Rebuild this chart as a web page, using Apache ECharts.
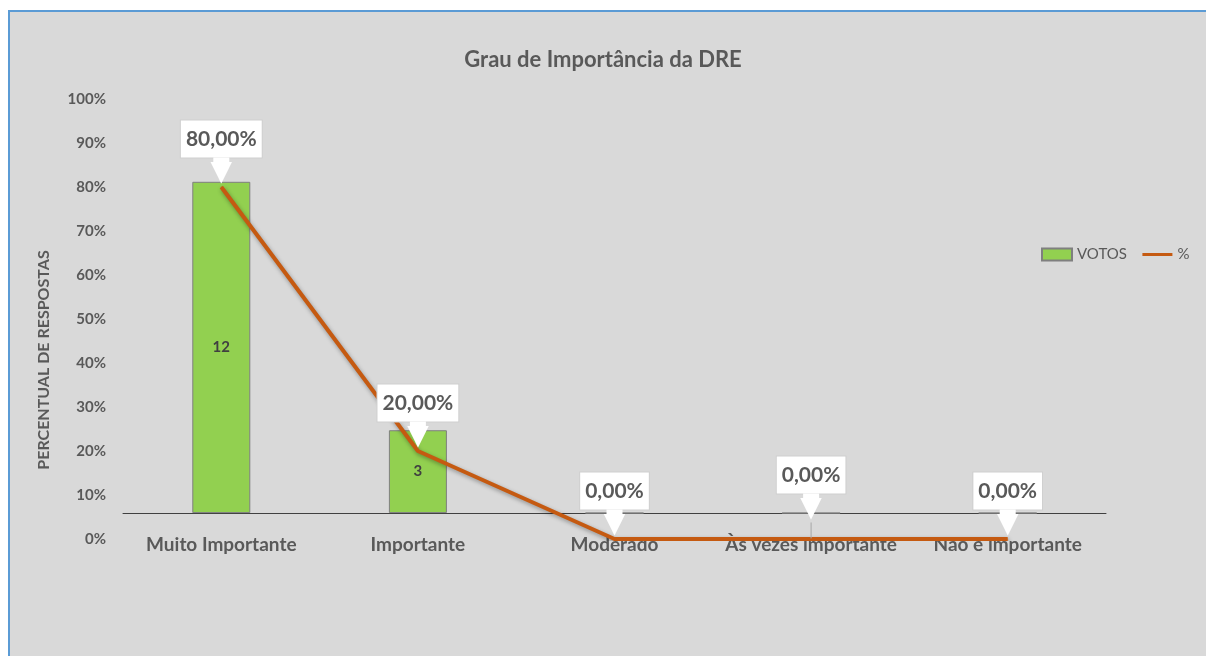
<!DOCTYPE html>
<html>
<head>
<meta charset="utf-8">
<script src="https://cdn.jsdelivr.net/npm/echarts@6/dist/echarts.min.js"></script>
<style>
  html, body { margin: 0; padding: 0; background: #ffffff; }
  #panel { position: absolute; left: 8px; top: 10px; width: 1198px; height: 646px;
           background: #d9d9d9; border-left: 2px solid #5b9bd5; border-top: 2px solid #5b9bd5; box-sizing: border-box; }
  #chart { position: absolute; left: 0; top: 0; width: 1206px; height: 656px; }
</style>
</head>
<body>
<div id="panel"></div>
<div id="chart"></div>
<script>
// chart data
const categories = ['Muito Importante', 'Importante', 'Moderado', 'Às vezes importante', 'Não é importante'];
const votos = [12, 3, 0, 0, 0];
const percentual = [0.8, 0.2, 0, 0, 0];

const textGray = '#595959';
const fmtPct = v => (v * 100).toFixed(2).replace('.', ',') + '%';

const myChart = echarts.init(document.getElementById('chart'));

const option = {
  backgroundColor: 'transparent',
  title: {
    text: 'Grau de Importância da DRE',
    left: 'center',
    top: 44,
    textStyle: { fontFamily: 'Lato', fontSize: 22, fontWeight: 'bold', color: textGray }
  },
  legend: {
    left: 1036,
    top: 242,
    itemWidth: 30,
    itemHeight: 12,
    itemGap: 14,
    textStyle: { fontFamily: 'Lato', fontSize: 15, color: textGray },
    data: [
      { name: 'VOTOS', icon: 'rect' },
      { name: '%', itemStyle: { opacity: 0 }, lineStyle: { width: 3 } }
    ]
  },
  graphic: [{
    type: 'text',
    x: 44,
    y: 360,
    rotation: Math.PI / 2,
    style: {
      text: 'PERCENTUAL DE RESPOSTAS',
      fill: textGray,
      font: 'bold 16px Lato',
      textAlign: 'center',
      textVerticalAlign: 'middle'
    }
  }],
  grid: { left: 123, right: 100, top: 99, bottom: 117 },
  xAxis: {
    type: 'category',
    data: categories,
    axisTick: { show: false },
    axisLine: { onZero: true, onZeroAxisIndex: 1, lineStyle: { color: '#404040', width: 1 } },
    axisLabel: { interval: 0, fontFamily: 'Lato', fontSize: 19, fontWeight: 'bold', color: textGray, margin: -4 }
  },
  yAxis: [{
    type: 'value',
    min: 0,
    max: 1,
    interval: 0.1,
    position: 'left',
    axisLine: { show: false },
    axisTick: { show: false },
    splitLine: { show: false },
    axisLabel: {
      fontFamily: 'Lato', fontSize: 15, fontWeight: 'bold', color: textGray, margin: 17,
      formatter: v => Math.round(v * 100) + '%'
    }
  }, {
    type: 'value',
    min: -0.94,
    max: 15,
    show: false,
    splitLine: { show: false }
  }],
  series: [{
    name: 'VOTOS',
    type: 'bar',
    yAxisIndex: 1,
    barWidth: 58,
    itemStyle: { color: '#92d050', borderColor: '#7f7f7f', borderWidth: 1 },
    label: {
      show: true,
      position: 'inside',
      fontFamily: 'Lato', fontSize: 15, fontWeight: 'bold', color: '#404040'
    },
    data: votos.map(v => v === 0 ? { value: v, label: { position: 'top', distance: 5 } } : v)
  }, {
    name: '%',
    type: 'line',
    yAxisIndex: 0,
    symbol: 'circle',
    symbolSize: 1,
    showSymbol: true,
    lineStyle: {
      color: '#c55a11', width: 4,
      shadowColor: 'rgba(0,0,0,0.35)', shadowBlur: 4, shadowOffsetX: 1, shadowOffsetY: 2
    },
    itemStyle: { color: '#c55a11' },
    label: {
      show: true,
      position: 'top',
      distance: 7,
      formatter: p => '{box|' + fmtPct(p.value) + '}\n{stem| }\n{arr|▼}',
      rich: {
        box: {
          fontFamily: 'Lato', fontSize: 21, fontWeight: 'bold', color: textGray,
          backgroundColor: '#ffffff', borderColor: '#cfcfcf', borderWidth: 1,
          padding: [8, 5, 8, 5]
        },
        stem: { backgroundColor: '#ffffff', width: 16, height: 8, lineHeight: 8 },
        arr: { fontFamily: 'DejaVu Sans', fontSize: 28, lineHeight: 14, color: '#ffffff' }
      }
    },
    labelLine: { show: true, lineStyle: { color: '#a6a6a6', width: 1 } },
    labelLayout: p => p.dataIndex === 3 ? { dy: -16 } : {},
    data: percentual
  }]
};

myChart.setOption(option);
</script>
</body>
</html>
